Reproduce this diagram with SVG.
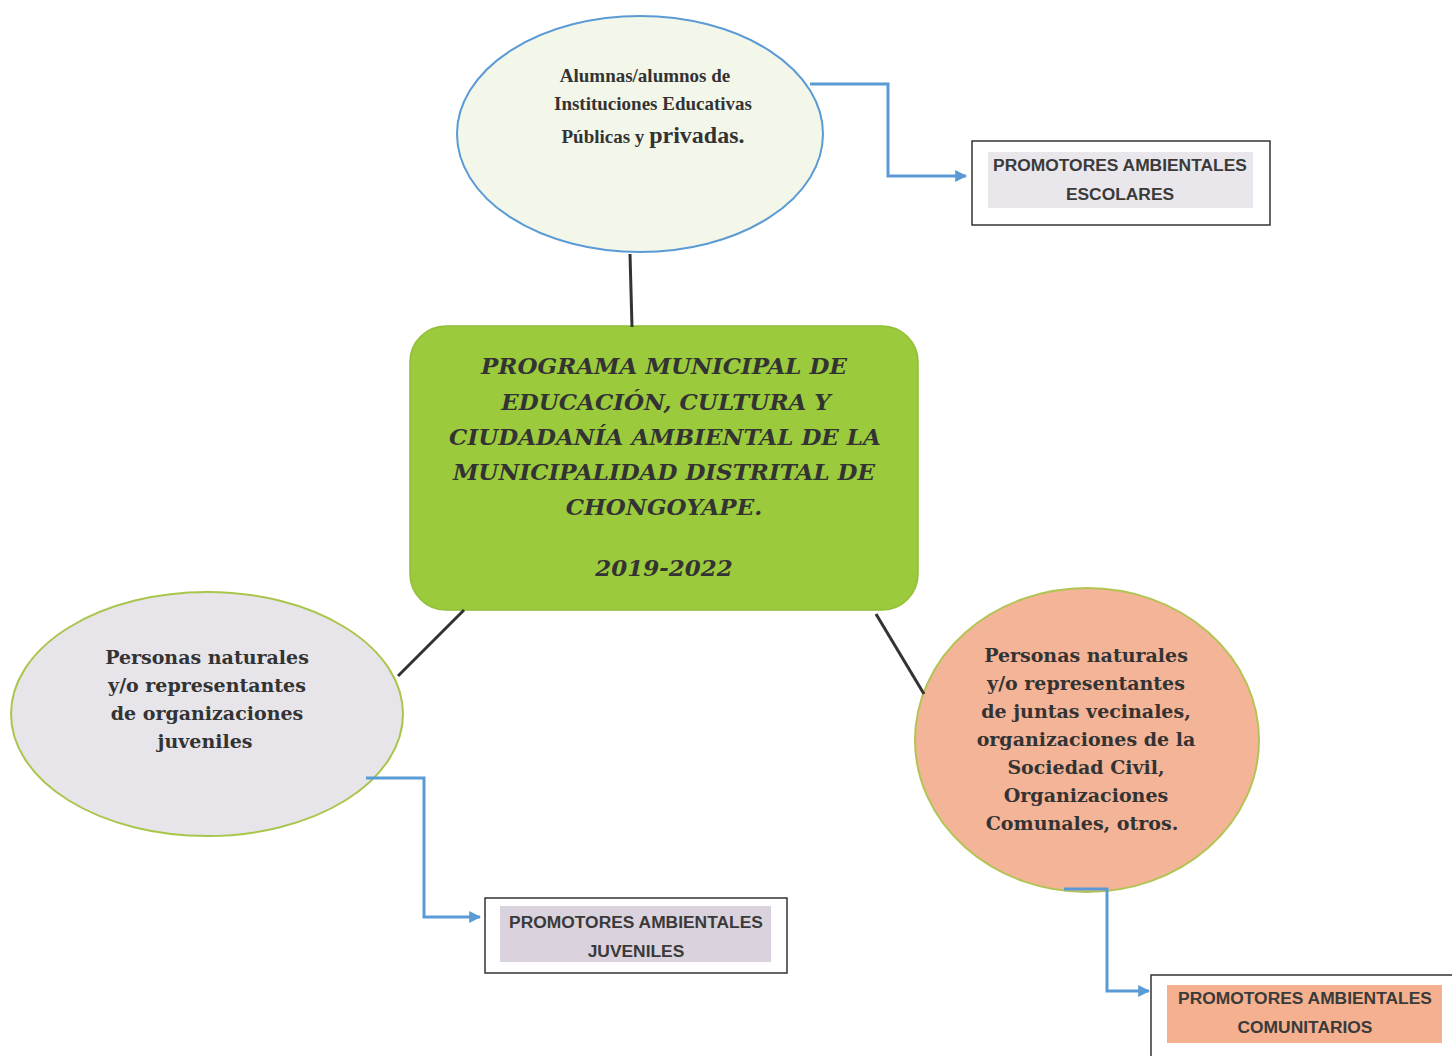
<svg xmlns="http://www.w3.org/2000/svg" width="1452" height="1056" viewBox="0 0 1452 1056">
<defs>
<marker id="arr" viewBox="0 0 10 10" refX="9" refY="5" markerWidth="4" markerHeight="4" orient="auto" markerUnits="strokeWidth">
<path d="M0,0 L10,5 L0,10 z" fill="#5b9bd5"/>
</marker>
<style>
.blue{fill:none;stroke:#5b9bd5;stroke-width:3}
.blk{fill:none;stroke:#333;stroke-width:3}
.box{fill:#fff;stroke:#333;stroke-width:1.5}
.bt{font-family:"Liberation Sans",Arial,sans-serif;font-weight:bold;font-size:17.4px;fill:#3a3a3a;text-anchor:middle}
.ct{font-family:"DejaVu Serif",serif;font-weight:bold;font-style:italic;font-size:23px;fill:#333;text-anchor:middle}
.et{font-family:"DejaVu Serif",serif;font-weight:bold;font-size:19px;fill:#333;text-anchor:middle}
.st{font-family:"Liberation Serif","Times New Roman",serif;font-weight:bold;font-size:19px;fill:#333;text-anchor:middle}
</style>
</defs>
<rect width="1452" height="1056" fill="#fff"/>
<g id="top-ellipse">
<ellipse cx="640" cy="134" rx="183" ry="118" fill="#f3f7ea" stroke="#5b9bd5" stroke-width="2"/>
<text class="st" x="645" y="82">Alumnas/alumnos de</text>
<text class="st" x="653" y="110">Instituciones Educativas</text>
<text class="st" x="653" y="143"><tspan>Públicas y </tspan><tspan font-size="24px">privadas.</tspan></text>
</g>
<g id="escolares">
<rect class="box" x="972" y="141" width="298" height="84"/>
<rect x="988" y="152" width="265" height="56" fill="#e9e7ec"/>
<text class="bt" x="1120" y="171">PROMOTORES AMBIENTALES</text>
<text class="bt" x="1120" y="200">ESCOLARES</text>
</g>
<g id="center">
<rect x="410" y="326" width="508" height="284" rx="36" fill="#9bca3c" stroke="#8fbf34" stroke-width="1.5"/>
<text class="ct" x="664" y="374">PROGRAMA MUNICIPAL DE</text>
<text class="ct" x="666" y="410">EDUCACIÓN, CULTURA Y</text>
<text class="ct" x="665" y="445">CIUDADANÍA AMBIENTAL DE LA</text>
<text class="ct" x="664" y="480">MUNICIPALIDAD DISTRITAL DE</text>
<text class="ct" x="664" y="515">CHONGOYAPE.</text>
<text class="ct" x="664" y="576">2019-2022</text>
</g>
<g id="left-ellipse">
<ellipse cx="207" cy="714" rx="196" ry="122" fill="#e7e4ea" stroke="#a9c64c" stroke-width="2"/>
<text class="et" x="207" y="664">Personas naturales</text>
<text class="et" x="207" y="692">y/o representantes</text>
<text class="et" x="207" y="720">de organizaciones</text>
<text class="et" x="205" y="748">juveniles</text>
</g>
<g id="juveniles">
<rect class="box" x="485" y="898" width="302" height="75"/>
<rect x="500" y="906" width="271" height="56" fill="#dad2dc"/>
<text class="bt" x="636" y="928">PROMOTORES AMBIENTALES</text>
<text class="bt" x="636" y="957">JUVENILES</text>
</g>
<g id="right-ellipse">
<ellipse cx="1087" cy="740" rx="172" ry="152" fill="#f4b497" stroke="#b3c455" stroke-width="2"/>
<text class="et" x="1086" y="662">Personas naturales</text>
<text class="et" x="1086" y="690">y/o representantes</text>
<text class="et" x="1086" y="718">de juntas vecinales,</text>
<text class="et" x="1086" y="746">organizaciones de la</text>
<text class="et" x="1086" y="774">Sociedad Civil,</text>
<text class="et" x="1086" y="802">Organizaciones</text>
<text class="et" x="1082" y="830">Comunales, otros.</text>
</g>
<g id="comunitarios">
<rect class="box" x="1151" y="975" width="310" height="90"/>
<rect x="1167" y="985" width="275" height="58" fill="#f4b08f"/>
<text class="bt" x="1305" y="1004">PROMOTORES AMBIENTALES</text>
<text class="bt" x="1305" y="1033">COMUNITARIOS</text>
</g>
<g id="connectors">
<line class="blk" x1="630" y1="254" x2="632" y2="327"/>
<line class="blk" x1="464" y1="610" x2="398" y2="676"/>
<line class="blk" x1="876" y1="614" x2="924" y2="694"/>
<polyline class="blue" points="810,84 888,84 888,176 966,176" marker-end="url(#arr)"/>
<polyline class="blue" points="366,778 424,778 424,917 480,917" marker-end="url(#arr)"/>
<polyline class="blue" points="1064,889 1107,889 1107,991 1149,991" marker-end="url(#arr)"/>
</g>
</svg>
